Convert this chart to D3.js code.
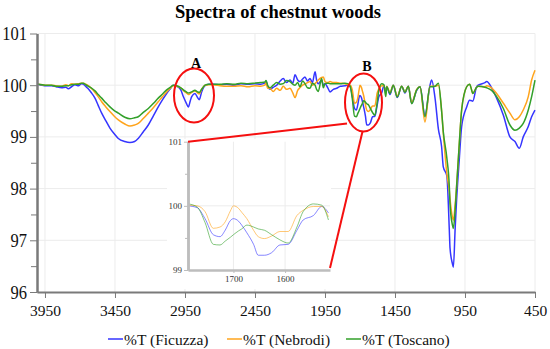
<!DOCTYPE html>
<html>
<head>
<meta charset="utf-8">
<script src="https://cdn.jsdelivr.net/npm/d3@7"></script>
<style>
  html, body { margin: 0; padding: 0; background: #fff; }
  svg { display: block; }
  svg text { font-family: "Liberation Serif", "Times New Roman", serif; }
</style>
</head>
<body>
<svg id="chart" width="550" height="349"></svg>
<script>
// wavenumber (cm-1), high to low
const wavenumbers = [
    4000, 3970, 3940, 3902, 3870, 3831, 3800, 3784, 3760, 3736, 3710, 3690, 3676, 3660, 3641, 3620, 3593, 3570,
    3545, 3515, 3486, 3455, 3426, 3380, 3343, 3310, 3284, 3250, 3212, 3175, 3141, 3110, 3081, 3055, 3034, 3009,
    2980, 2962, 2940, 2926, 2912, 2902, 2879, 2860, 2848, 2831, 2807, 2780, 2748, 2700, 2650, 2600, 2550, 2500,
    2450, 2410, 2380,
    2371, 2360, 2343, 2320, 2295, 2270, 2248, 2225, 2200, 2180, 2164, 2145, 2129, 2110, 2093, 2075, 2057, 2040,
    2021, 2010, 1998, 1974, 1962, 1950, 1930, 1914, 1890, 1867, 1840, 1807,
    1787, 1770, 1755, 1739, 1726, 1716, 1706, 1700, 1690, 1684, 1674, 1661, 1652, 1640, 1626, 1610, 1594, 1577,
    1565, 1545, 1529, 1516,
    1509, 1486, 1462, 1434, 1402, 1379, 1355, 1331, 1295, 1271, 1236, 1200, 1188, 1164, 1140, 1117, 1105, 1080,
    1062, 1057, 1040, 1033, 1020, 1010, 990, 974, 938, 917, 902, 895, 867, 855, 807, 795, 760, 724,
    676, 629, 593, 562, 534, 498, 474, 450
];

const ficuzza = [
    100.02, 100.00, 99.99, 99.99, 99.97, 99.95, 99.96, 99.93, 99.97, 100.01, 99.99, 100.03, 100.02, 99.98, 99.93, 99.86, 99.75, 99.61,
    99.46, 99.31, 99.17, 99.06, 98.97, 98.91, 98.89, 98.91, 98.97, 99.09, 99.23, 99.41, 99.58, 99.72, 99.84, 99.93, 100.00, 99.98,
    99.91, 99.78, 99.65, 99.58, 99.70, 99.78, 99.84, 99.76, 99.72, 99.87, 99.99, 100.02, 100.02, 100.01, 100.02, 100.00, 100.03, 100.02,
    100.03, 100.02, 100.04,
    100.08, 99.98, 99.92, 99.96, 100.00, 100.08, 100.13, 100.05, 100.10, 100.04, 100.20, 100.10, 100.07, 100.12, 100.16, 100.08, 100.13, 100.05,
    100.26, 100.10, 100.03, 100.10, 100.00, 100.03, 99.95, 99.87, 99.92, 99.94, 99.98, 99.99,
    100.00, 99.97, 99.80, 99.55, 99.52, 99.62, 99.77, 99.80, 99.76, 99.70, 99.58, 99.40, 99.23, 99.23, 99.27, 99.39, 99.40, 99.62,
    99.78, 99.85, 99.99, 99.89,
    99.97, 99.82, 100.00, 99.76, 99.98, 99.85, 99.98, 99.65, 99.90, 99.97, 99.42, 100.00, 100.10, 99.75, 99.15, 98.81, 98.42, 98.25,
    97.20, 96.85, 96.55, 96.48, 97.25, 97.78, 98.60, 99.20, 99.58, 99.71, 99.70, 99.69, 99.97, 100.00, 100.05, 100.07, 99.95, 99.75,
    99.42, 99.00, 98.91, 98.78, 99.00, 99.20, 99.39, 99.52
];

const nebrodi = [
    100.02, 100.01, 100.00, 100.00, 99.99, 99.98, 100.01, 99.99, 100.03, 100.02, 100.03, 100.04, 100.04, 100.02, 99.99, 99.94, 99.86, 99.78,
    99.68, 99.58, 99.49, 99.40, 99.33, 99.25, 99.21, 99.23, 99.26, 99.35, 99.46, 99.57, 99.68, 99.78, 99.87, 99.94, 99.99, 99.98,
    99.95, 99.90, 99.85, 99.82, 99.84, 99.86, 99.89, 99.85, 99.83, 99.92, 100.00, 100.01, 100.01, 99.99, 99.98, 99.98, 99.99, 99.97,
    99.99, 99.98, 100.00,
    100.05, 99.94, 99.94, 99.88, 99.94, 99.90, 99.98, 99.92, 99.94, 99.85, 99.76, 99.90, 99.95, 100.00, 100.02, 100.05, 100.07, 100.00,
    100.03, 100.06, 100.10, 100.15, 100.16, 100.07, 100.05, 100.07, 100.05, 100.05, 100.04, 100.03,
    100.01, 100.00, 99.91, 99.65, 99.67, 99.75, 99.92, 100.00, 99.96, 99.90, 99.80, 99.62, 99.52, 99.49, 99.53, 99.60, 99.60, 99.85,
    99.93, 99.99, 99.99, 99.83,
    99.98, 99.86, 100.00, 99.79, 99.98, 99.87, 99.98, 99.66, 99.92, 99.97, 99.29, 99.98, 99.98, 99.98, 100.00, 99.50, 99.07, 98.30,
    97.95, 97.80, 97.45, 97.39, 97.70, 98.04, 98.90, 99.52, 99.97, 100.02, 99.90, 99.84, 99.96, 99.98, 99.97, 99.99, 99.95, 99.84,
    99.65, 99.46, 99.33, 99.39, 99.52, 99.78, 100.10, 100.29
];

const toscano = [
    100.02, 100.01, 100.00, 100.00, 99.98, 99.98, 99.99, 99.99, 100.01, 100.02, 100.02, 100.04, 100.04, 100.01, 99.98, 99.95, 99.89, 99.82,
    99.75, 99.66, 99.58, 99.51, 99.46, 99.38, 99.35, 99.37, 99.39, 99.47, 99.55, 99.65, 99.75, 99.83, 99.91, 99.96, 100.00, 99.99,
    99.95, 99.91, 99.87, 99.85, 99.86, 99.87, 99.90, 99.87, 99.86, 99.92, 100.00, 100.02, 100.02, 100.02, 100.03, 100.02, 100.04, 100.03,
    100.04, 100.05, 100.06,
    100.09, 100.00, 99.95, 100.00, 100.05, 100.02, 100.03, 100.09, 100.07, 100.02, 100.00, 100.05, 99.97, 100.08, 100.03, 99.95, 99.94, 100.04,
    100.00, 99.92, 99.88, 100.13, 99.95, 100.03, 100.04, 100.03, 100.03, 100.03, 100.03, 100.04,
    100.03, 99.98, 99.74, 99.40, 99.39, 99.45, 99.51, 99.55, 99.61, 99.64, 99.70, 99.67, 99.64, 99.62, 99.55, 99.47, 99.42, 99.67,
    99.91, 100.03, 100.01, 99.78,
    99.97, 99.84, 100.00, 99.77, 99.98, 99.86, 99.98, 99.64, 99.91, 99.97, 99.39, 99.97, 99.97, 99.98, 100.04, 99.50, 99.10, 98.60,
    98.04, 97.70, 97.30, 97.23, 97.60, 98.04, 98.90, 99.52, 99.97, 100.02, 99.90, 99.84, 99.96, 99.98, 99.96, 99.95, 99.90, 99.78,
    99.55, 99.23, 99.13, 99.17, 99.26, 99.52, 99.78, 100.10
];

const seriesNames = ["%T (Ficuzza)", "%T (Nebrodi)", "%T (Toscano)"];
const seriesColors = ["#3535ff", "#ffa41c", "#32a02a"];

const xTicks = [3950, 3450, 2950, 2450, 1950, 1450, 950, 450];
const yTicks = [96, 97, 98, 99, 100, 101];
const yMinorTicks = [96.5, 97.5, 98.5, 99.5, 100.5];

const insetXTicks = [1700, 1600];
const insetYTicks = [99, 100, 101];
const insetYMinorTicks = [99.5, 100.5];

const SERIF = '"Liberation Serif", "Times New Roman", serif';
const PLOT = { left: 37, right: 535, top: 33.5, bottom: 292 };
const INSET = { left: 188, right: 330, top: 141.7, bottom: 270 };
const AXIS_COLOR = "#7a7a7a";
const GRID_COLOR = "#ececec";
const RED = "#f50f0f";

const svg = d3.select("#chart");

const x = d3.scaleLinear().domain([4007, 450]).range([PLOT.left, PLOT.right]);
const y = d3.scaleLinear().domain([96, 101]).range([PLOT.bottom, PLOT.top]);

const series = [ficuzza, nebrodi, toscano].map((vals, i) => ({
    name: seriesNames[i],
    color: seriesColors[i],
    points: wavenumbers.map((w, j) => ({ w: w, t: vals[j] }))
}));

// grid
const grid = svg.append("g").attr("class", "grid")
    .attr("stroke", GRID_COLOR).attr("stroke-width", 1);
grid.selectAll("line.h").data(yTicks.slice(1)).join("line")
    .attr("class", "h")
    .attr("x1", PLOT.left).attr("x2", PLOT.right)
    .attr("y1", (d) => y(d)).attr("y2", (d) => y(d));
grid.selectAll("line.v").data(xTicks).join("line")
    .attr("class", "v")
    .attr("x1", (d) => x(d)).attr("x2", (d) => x(d))
    .attr("y1", PLOT.top).attr("y2", PLOT.bottom);

// main spectra
const line = d3.line()
    .x((d) => x(d.w))
    .y((d) => y(d.t))
    .curve(d3.curveMonotoneX);

svg.append("g").selectAll("path").data(series).join("path")
    .attr("fill", "none")
    .attr("stroke", (s) => s.color)
    .attr("stroke-width", 1.5)
    .attr("stroke-linejoin", "round")
    .attr("d", (s) => line(s.points));

// axes
function styleAxis(g, color, width, fontSize) {
    g.attr("font-family", null);
    g.select(".domain").attr("stroke", color).attr("stroke-width", width);
    g.selectAll(".tick line").attr("stroke", color).attr("stroke-width", 1);
    g.selectAll(".tick text")
        .attr("fill", "#111")
        .style("font-family", SERIF)
        .style("font-size", fontSize + "px");
}

svg.append("g")
    .attr("transform", `translate(${PLOT.left},0)`)
    .call(d3.axisLeft(y).tickValues(yMinorTicks).tickSize(6).tickSizeOuter(0).tickFormat(""))
    .call((g) => styleAxis(g, AXIS_COLOR, 2, 17));
svg.append("g")
    .attr("transform", `translate(${PLOT.left},0)`)
    .call(d3.axisLeft(y).tickValues(yTicks).tickSize(7).tickPadding(3).tickSizeOuter(0).tickFormat(d3.format("d")))
    .call((g) => styleAxis(g, AXIS_COLOR, 2, 16.5))
    // the labels in the picture are a bit taller than wide
    .call((g) => g.selectAll(".tick text").attr("transform", "scale(1,1.15)"));
svg.append("g")
    .attr("transform", `translate(0,${PLOT.bottom})`)
    .call(d3.axisBottom(x).tickValues(xTicks).tickSize(6).tickPadding(7).tickSizeOuter(0).tickFormat(d3.format("d")))
    .call((g) => styleAxis(g, AXIS_COLOR, 2, 15.5));

// title
svg.append("text")
    .attr("x", 278).attr("y", 18)
    .attr("text-anchor", "middle")
    .style("font-family", SERIF)
    .style("font-size", "18.5px")
    .style("font-weight", "bold")
    .text("Spectra of chestnut woods");

// zoomed inset of region B
const ix = d3.scaleLinear().domain([1788, 1513]).range([INSET.left, INSET.right]);
const iy = d3.scaleLinear().domain([99, 101]).range([INSET.bottom, INSET.top]);

const inset = svg.append("g").attr("class", "inset");
inset.append("rect")
    .attr("x", 167).attr("y", 139)
    .attr("width", 164).attr("height", 150)
    .attr("fill", "#fff");

inset.append("line")
    .attr("x1", INSET.left).attr("x2", INSET.right)
    .attr("y1", iy(100)).attr("y2", iy(100))
    .attr("stroke", GRID_COLOR);
inset.selectAll("line.iv").data(insetXTicks).join("line")
    .attr("class", "iv")
    .attr("x1", (d) => ix(d)).attr("x2", (d) => ix(d))
    .attr("y1", INSET.top).attr("y2", INSET.bottom)
    .attr("stroke", GRID_COLOR);

const insetLine = d3.line()
    .x((d) => ix(d.w))
    .y((d) => iy(d.t))
    .curve(d3.curveMonotoneX);

inset.append("g").selectAll("path").data(series).join("path")
    .attr("fill", "none")
    .attr("stroke", (s) => s.color)
    .attr("stroke-width", 1)
    .attr("stroke-opacity", 0.6)
    .attr("d", (s) => insetLine(s.points.filter((p) => p.w <= 1788 && p.w >= 1513)));

inset.append("g")
    .attr("transform", `translate(${INSET.left},0)`)
    .call(d3.axisLeft(iy).tickValues(insetYMinorTicks).tickSize(3).tickSizeOuter(0).tickFormat(""))
    .call((g) => styleAxis(g, "#bdbdbd", 2.5, 9));
inset.append("g")
    .attr("transform", `translate(${INSET.left},0)`)
    .call(d3.axisLeft(iy).tickValues(insetYTicks).tickSize(4).tickPadding(2).tickSizeOuter(0).tickFormat(d3.format("d")))
    .call((g) => styleAxis(g, "#bdbdbd", 2.5, 9));
inset.append("g")
    .attr("transform", `translate(0,${INSET.bottom})`)
    .call(d3.axisBottom(ix).tickValues(insetXTicks).tickSize(3).tickPadding(3).tickSizeOuter(0).tickFormat(d3.format("d")))
    .call((g) => styleAxis(g, "#bdbdbd", 2.5, 9));
inset.selectAll(".tick text").attr("fill", "#333");

// red markers
const marks = svg.append("g").attr("fill", "none").attr("stroke", RED).attr("stroke-width", 2);
marks.append("ellipse").attr("cx", 194).attr("cy", 95.5).attr("rx", 20).attr("ry", 27);
marks.append("ellipse").attr("cx", 363.5).attr("cy", 102.5).attr("rx", 18.5).attr("ry", 29);
marks.append("line").attr("x1", INSET.left).attr("y1", INSET.top).attr("x2", 347).attr("y2", 123.5);
marks.append("line").attr("x1", 362.5).attr("y1", 131.5).attr("x2", INSET.right).attr("y2", 268);

svg.selectAll("text.letter").data([["A", 196, 67.5], ["B", 367, 71]]).join("text")
    .attr("class", "letter")
    .attr("x", (d) => d[1]).attr("y", (d) => d[2])
    .attr("text-anchor", "middle")
    .style("font-family", SERIF)
    .style("font-size", "14px")
    .style("font-weight", "bold")
    .text((d) => d[0]);

// legend
const legendX = [108, 227, 346];
const legend = svg.append("g").selectAll("g").data(series).join("g")
    .attr("transform", (s, i) => `translate(${legendX[i]},339)`);
legend.append("line")
    .attr("x1", 0).attr("x2", 15)
    .attr("stroke", (s) => s.color)
    .attr("stroke-width", 1.5);
legend.append("text")
    .attr("x", 16).attr("y", 5.5)
    .style("font-family", SERIF)
    .style("font-size", "15.5px")
    .attr("fill", "#111")
    .text((s) => s.name);
</script>
</body>
</html>
